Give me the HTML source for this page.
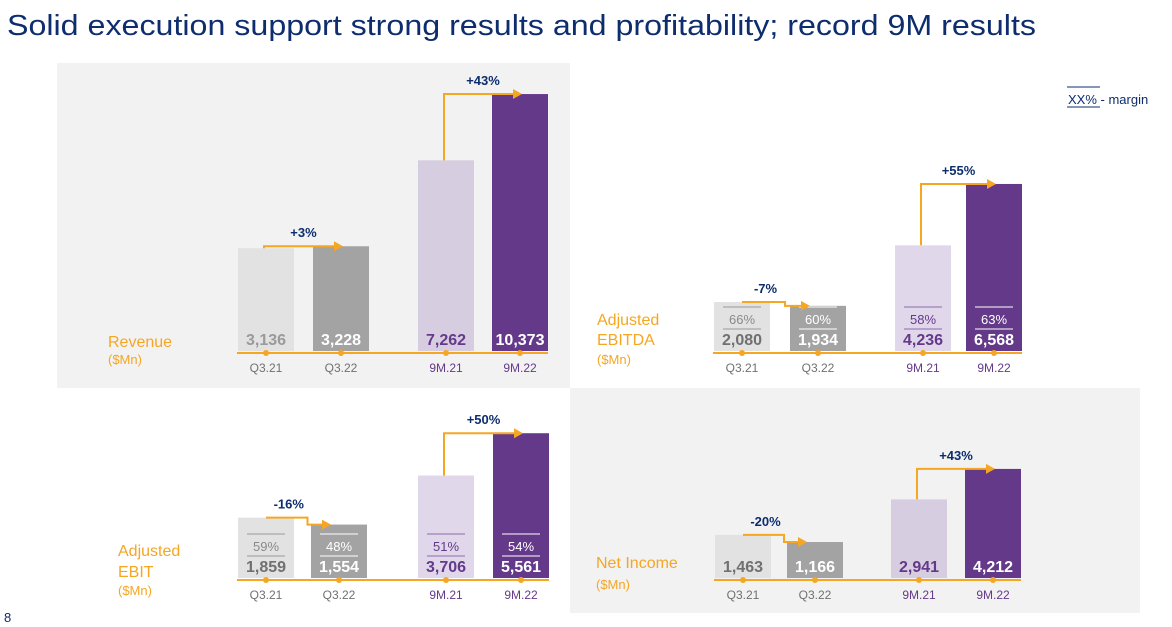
<!DOCTYPE html>
<html><head><meta charset="utf-8"><style>
html,body{margin:0;padding:0;background:#fff;width:1172px;height:627px;overflow:hidden}
svg{display:block;font-family:"Liberation Sans",sans-serif}
</style></head><body>
<svg id="c" width="1172" height="627" viewBox="0 0 1172 627">
<rect x="57" y="63" width="513" height="325" fill="#f2f2f2"/>
<rect x="570" y="388" width="570" height="225" fill="#f2f2f2"/>
<text x="7" y="35" font-size="29" fill="#0d2d6e" textLength="1029" lengthAdjust="spacingAndGlyphs">Solid execution support strong results and profitability; record 9M results</text>
<text x="4" y="622" font-size="13" fill="#0d2d6e">8</text>
<g>
<line x1="1067" y1="87" x2="1100" y2="87" stroke="#0d2d6e" stroke-width="1"/>
<line x1="1067" y1="107" x2="1100" y2="107" stroke="#0d2d6e" stroke-width="1"/>
<text x="1068" y="104" font-size="13" fill="#0d2d6e">XX% - margin</text>
</g>
<g id="charts"></g>
</svg>
<script>
const categories = ["Q3.21","Q3.22","9M.21","9M.22"];
const revenueValues = [3136, 3228, 7262, 10373];
const ebitdaValues = [2080, 1934, 4236, 6568];
const ebitValues = [1859, 1554, 3706, 5561];
const netIncomeValues = [1463, 1166, 2941, 4212];
const ebitdaMargins = ["66%","60%","58%","63%"];
const ebitMargins = ["59%","48%","51%","54%"];
const revenueGrowth = ["+3%","+43%"];
const ebitdaGrowth = ["-7%","+55%"];
const ebitGrowth = ["-16%","+50%"];
const netIncomeGrowth = ["-20%","+43%"];

const NS="http://www.w3.org/2000/svg";
const root=document.getElementById('charts');
function el(tag,attrs,parent,text){const e=document.createElementNS(NS,tag);for(const k in attrs)e.setAttribute(k,attrs[k]);if(text!==undefined)e.textContent=text;(parent||root).appendChild(e);return e;}
const fmt=v=>v.toLocaleString('en-US');
const ORANGE="#f5a623";
const panels=[
 {id:'revenue',values:revenueValues,growth:revenueGrowth,margins:null,base:351,a:36,b:0.0213,xs:[238,313,418,492],lab:[["Revenue",108,347,16],["($Mn)",108,364,13]],q21c:"#9a9a9a",p21fill:"#d6cde0"},
 {id:'ebitda',values:ebitdaValues,growth:ebitdaGrowth,margins:ebitdaMargins,base:351,a:-5.7,b:0.0263,xs:[714,790,895,966],lab:[["Adjusted",597,325,16],["EBITDA",597,345,16],["($Mn)",597,364,13]],q21c:"#707070",p21fill:"#e0d8ea"},
 {id:'ebit',values:ebitValues,growth:ebitGrowth,margins:ebitMargins,base:578,a:18,b:0.0228,xs:[238,311,418,493],lab:[["Adjusted",118,556,16],["EBIT",118,577,16],["($Mn)",118,595,13]],q21c:"#707070",p21fill:"#e0d8ea"},
 {id:'net-income',values:netIncomeValues,growth:netIncomeGrowth,margins:null,base:578,a:8,b:0.024,xs:[715,787,891,965],lab:[["Net Income",596,568,16],["($Mn)",596,589,13]],q21c:"#707070",p21fill:"#d6cde0"}
];
const W=56;
panels.forEach(p=>{
 const g=el('g',{});
 
 
 p.lab.forEach(l=>{const t=el('text',{x:l[1],y:l[2],'font-size':l[3],fill:ORANGE},g,l[0]);
  
  });
 const h=v=>p.a+p.b*v;
 const top=i=>p.base-h(p.values[i]);
 const cx=i=>p.xs[i]+W/2;
 const fills=["#e2e2e2","#a3a3a3",p.p21fill,"#65398a"];
 const tcol=[p.q21c,"#ffffff","#65398a","#ffffff"];
 const ax=el('line',{x1:p.xs[0]-1,y1:p.base+2,x2:p.xs[3]+W,y2:p.base+2,stroke:ORANGE,'stroke-width':2},g);
 
 
 p.values.forEach((v,i)=>{
  const r=el('rect',{x:p.xs[i],y:top(i),width:W,height:h(v),fill:fills[i]},g);
  
  
  const t=el('text',{x:cx(i),y:p.base-6,'text-anchor':'middle','font-size':16,'font-weight':'bold',fill:tcol[i]},g,fmt(v));
  
  
  el('circle',{cx:cx(i),cy:p.base+2,r:3,fill:ORANGE},g);
  const c=el('text',{x:cx(i),y:p.base+21,'text-anchor':'middle','font-size':12,fill:i<2?"#707070":"#65398a"},g,categories[i]);
  
  
  if(p.margins){
   const lc=i==0?"#9a9a9a":(i==2?"#8a6aa8":"#ffffff");
   el('line',{x1:cx(i)-19,y1:p.base-44,x2:cx(i)+19,y2:p.base-44,stroke:lc,'stroke-width':1},g);
   el('line',{x1:cx(i)-19,y1:p.base-22,x2:cx(i)+19,y2:p.base-22,stroke:lc,'stroke-width':1},g);
   const m=el('text',{x:cx(i),y:p.base-27,'text-anchor':'middle','font-size':13,fill:i==0?"#8a8a8a":tcol[i]},g,p.margins[i]);
   
   
  }
 });
 [[0,1],[2,3]].forEach((pr,k)=>{
  const [i,j]=pr; const g0=p.growth[k];
  let d,lx,ly;
  const ti=top(i),tj=top(j);
  if(tj<=ti){
   const x0=cx(i)-2,x1=cx(j)+2;
   d=`M${x0},${ti} V${tj} H${x1-8}`;
   el('path',{d:`M${x1-9},${tj-5} L${x1},${tj} L${x1-9},${tj+5} Z`,fill:ORANGE},g);
   lx=(x0+x1)/2; ly=tj-9;
  } else {
   const x0=cx(i),xm=(p.xs[i]+W+p.xs[j])/2+5,x1=cx(j)-8;
   d=`M${x0},${ti} H${xm} V${tj} H${x1-8}`;
   el('path',{d:`M${x1-9},${tj-5} L${x1},${tj} L${x1-9},${tj+5} Z`,fill:ORANGE},g);
   lx=(x0+xm)/2+2; ly=ti-9;
  }
  const a=el('path',{d:d,fill:'none',stroke:ORANGE,'stroke-width':2},g);
  
  
  const t=el('text',{x:lx,y:ly,'text-anchor':'middle','font-size':13,'font-weight':'bold',fill:"#0d2d6e"},g,g0);
  
  
 });
});
</script>
</body></html>
